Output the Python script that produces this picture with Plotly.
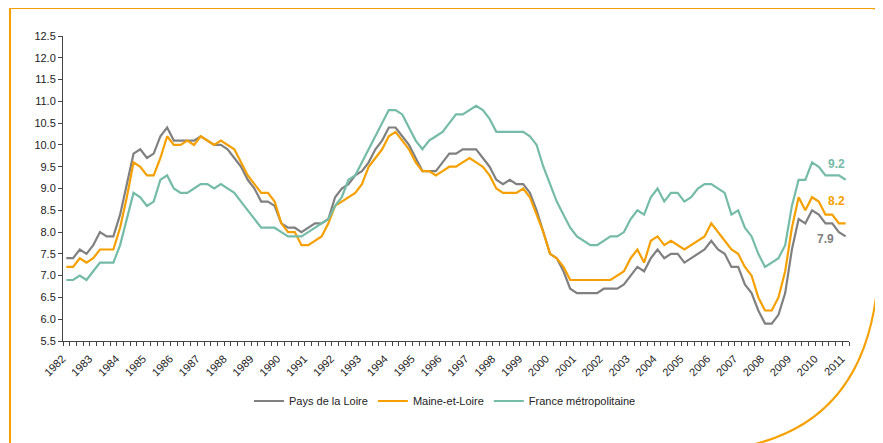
import plotly.graph_objects as go

# Quarterly unemployment rate (%), 1982 Q1 -> 2011 Q1
years = [str(y) for y in range(1982, 2012)]
quarters = [f"{y}T{q}" for y in range(1982, 2012) for q in range(1, 5)][:117]

pays_de_la_loire = [
    7.4, 7.4, 7.6, 7.5, 7.7, 8.0, 7.9, 7.9,
    8.4, 9.1, 9.8, 9.9, 9.7, 9.8, 10.2, 10.4,
    10.1, 10.1, 10.1, 10.1, 10.2, 10.1, 10.0, 10.0,
    9.9, 9.7, 9.5, 9.2, 9.0, 8.7, 8.7, 8.6,
    8.2, 8.1, 8.1, 8.0, 8.1, 8.2, 8.2, 8.3,
    8.8, 9.0, 9.1, 9.3, 9.4, 9.6, 9.9, 10.1,
    10.4, 10.4, 10.2, 10.0, 9.7, 9.4, 9.4, 9.4,
    9.6, 9.8, 9.8, 9.9, 9.9, 9.9, 9.7, 9.5,
    9.2, 9.1, 9.2, 9.1, 9.1, 8.9, 8.5, 8.0,
    7.5, 7.4, 7.1, 6.7, 6.6, 6.6, 6.6, 6.6,
    6.7, 6.7, 6.7, 6.8, 7.0, 7.2, 7.1, 7.4,
    7.6, 7.4, 7.5, 7.5, 7.3, 7.4, 7.5, 7.6,
    7.8, 7.6, 7.5, 7.2, 7.2, 6.8, 6.6, 6.2,
    5.9, 5.9, 6.1, 6.6, 7.6, 8.3, 8.2, 8.5,
    8.4, 8.2, 8.2, 8.0, 7.9,
]
maine_et_loire = [
    7.2, 7.2, 7.4, 7.3, 7.4, 7.6, 7.6, 7.6,
    8.1, 8.8, 9.6, 9.5, 9.3, 9.3, 9.7, 10.2,
    10.0, 10.0, 10.1, 10.0, 10.2, 10.1, 10.0, 10.1,
    10.0, 9.9, 9.6, 9.3, 9.1, 8.9, 8.9, 8.7,
    8.2, 8.0, 8.0, 7.7, 7.7, 7.8, 7.9, 8.2,
    8.6, 8.7, 8.8, 8.9, 9.1, 9.5, 9.7, 9.9,
    10.2, 10.3, 10.1, 9.9, 9.6, 9.4, 9.4, 9.3,
    9.4, 9.5, 9.5, 9.6, 9.7, 9.6, 9.5, 9.3,
    9.0, 8.9, 8.9, 8.9, 9.0, 8.8, 8.4, 8.0,
    7.5, 7.4, 7.2, 6.9, 6.9, 6.9, 6.9, 6.9,
    6.9, 6.9, 7.0, 7.1, 7.4, 7.6, 7.3, 7.8,
    7.9, 7.7, 7.8, 7.7, 7.6, 7.7, 7.8, 7.9,
    8.2, 8.0, 7.8, 7.6, 7.5, 7.2, 7.0, 6.5,
    6.2, 6.2, 6.5, 7.1, 8.1, 8.8, 8.5, 8.8,
    8.7, 8.4, 8.4, 8.2, 8.2,
]
france_metro = [
    6.9, 6.9, 7.0, 6.9, 7.1, 7.3, 7.3, 7.3,
    7.7, 8.3, 8.9, 8.8, 8.6, 8.7, 9.2, 9.3,
    9.0, 8.9, 8.9, 9.0, 9.1, 9.1, 9.0, 9.1,
    9.0, 8.9, 8.7, 8.5, 8.3, 8.1, 8.1, 8.1,
    8.0, 7.9, 7.9, 7.9, 8.0, 8.1, 8.2, 8.3,
    8.6, 8.8, 9.2, 9.3, 9.6, 9.9, 10.2, 10.5,
    10.8, 10.8, 10.7, 10.4, 10.1, 9.9, 10.1, 10.2,
    10.3, 10.5, 10.7, 10.7, 10.8, 10.9, 10.8, 10.6,
    10.3, 10.3, 10.3, 10.3, 10.3, 10.2, 10.0, 9.5,
    9.1, 8.7, 8.4, 8.1, 7.9, 7.8, 7.7, 7.7,
    7.8, 7.9, 7.9, 8.0, 8.3, 8.5, 8.4, 8.8,
    9.0, 8.7, 8.9, 8.9, 8.7, 8.8, 9.0, 9.1,
    9.1, 9.0, 8.9, 8.4, 8.5, 8.1, 7.9, 7.5,
    7.2, 7.3, 7.4, 7.7, 8.6, 9.2, 9.2, 9.6,
    9.5, 9.3, 9.3, 9.3, 9.2,
]
y_ticks = [5.5 + 0.5 * k for k in range(15)]

series_names = ["Pays de la Loire", "Maine-et-Loire", "France métropolitaine"]
colors = ["#808080", "#F5A000", "#74BBA8"]
all_series = [pays_de_la_loire, maine_et_loire, france_metro]

n = len(quarters)
xidx = list(range(n))

fig = go.Figure()
for name, vals, col in zip(series_names, all_series, colors):
    fig.add_trace(go.Scatter(
        x=xidx, y=vals, mode="lines", name=name,
        line=dict(color=col, width=2.2),
        hovertext=quarters, hoverinfo="text+y",
    ))

# end-of-series value labels (offsets relative to last point)
label_shifts = [(-20, -3), (-9, 22), (-9, 16)]
for vals, col, (dx, dy) in zip(all_series, colors, label_shifts):
    fig.add_annotation(
        x=n - 1, y=vals[-1], xref="x", yref="y",
        text=f"<b>{vals[-1]:.1f}</b>", showarrow=False,
        xshift=dx, yshift=dy,
        font=dict(family="Liberation Sans, Arial", size=12, color=col),
    )

# page has an 8px body margin; plot area in page pixels: x 63..849, y 36..341
OFF = 8
W, H = 883, 443
L, T = 63 - OFF, 36 - OFF
pw, ph = 786, 305
R, B = W - L - pw, H - T - ph


def px(x):
    return (x - OFF - L) / pw


def py(y):
    return (T + ph - (y - OFF)) / ph


border = (
    f"M {px(10)},{py(460)} L {px(10)},{py(8)} L {px(872)},{py(8)} "
    f"Q {px(879)},{py(8)} {px(879)},{py(15)} L {px(879)},{py(250)} "
    f"C {px(879)},{py(380)} {px(820)},{py(440)} {px(720)},{py(450)}"
)
fig.add_shape(type="path", path=border, xref="paper", yref="paper",
              line=dict(color="#F5A000", width=2), layer="below")

fig.update_layout(
    width=W, height=H, autosize=False,
    margin=dict(l=L, r=R, t=T, b=B, autoexpand=False),
    paper_bgcolor="white", plot_bgcolor="white",
    font=dict(family="Liberation Sans, Arial", size=11, color="#222222"),
    showlegend=True,
    legend=dict(orientation="h", x=px(445), xref="paper", xanchor="center",
                y=py(401), yref="paper", yanchor="middle",
                font=dict(size=11, color="#222222"),
                bgcolor="rgba(0,0,0,0)"),
    xaxis=dict(
        range=[-0.5, n - 0.5], tickmode="array",
        tickvals=[4 * k for k in range(len(years))], ticktext=years,
        tickangle=-45, ticks="", showgrid=False, zeroline=False,
        showline=True, linecolor="#444444", linewidth=1,
        tickfont=dict(size=11, color="#222222"),
        ticklabelstandoff=6, ticklabelshift=-4,
        minor=dict(tickmode="array", tickvals=[k - 0.5 for k in range(n + 1)],
                   ticks="outside", ticklen=4, tickcolor="#444444", showgrid=False),
    ),
    yaxis=dict(
        range=[5.5, 12.5], tickmode="array", tickvals=y_ticks,
        ticktext=[f"{v:.1f}" for v in y_ticks],
        ticks="outside", ticklen=4, tickcolor="#444444",
        showgrid=False, zeroline=False,
        showline=True, linecolor="#444444", linewidth=1,
        tickfont=dict(size=11, color="#222222"),
    ),
)

fig.write_html("out.html")
